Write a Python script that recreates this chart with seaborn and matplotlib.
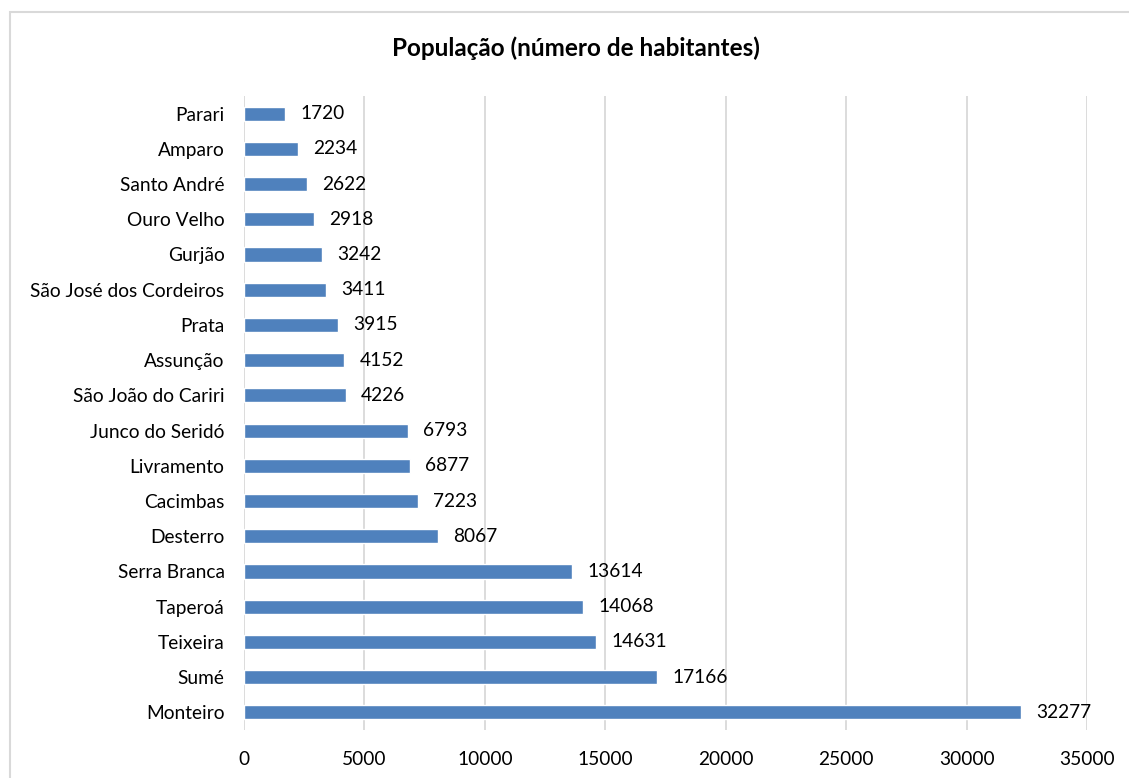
import matplotlib
matplotlib.use("Agg")
import matplotlib.pyplot as plt
import seaborn as sns
import pandas as pd
from matplotlib.patches import Rectangle

municipios = ["Parari", "Amparo", "Santo André", "Ouro Velho", "Gurjão",
              "São José dos Cordeiros", "Prata", "Assunção", "São João do Cariri",
              "Junco do Seridó", "Livramento", "Cacimbas", "Desterro",
              "Serra Branca", "Taperoá", "Teixeira", "Sumé", "Monteiro"]
populacao = [1720, 2234, 2622, 2918, 3242, 3411, 3915, 4152, 4226,
             6793, 6877, 7223, 8067, 13614, 14068, 14631, 17166, 32277]
x_ticks = [0, 5000, 10000, 15000, 20000, 25000, 30000, 35000]
titulo = "População (número de habitantes)"

df = pd.DataFrame({"municipio": municipios, "populacao": populacao})

sns.set_theme(style="white")
plt.rcParams["font.family"] = ["Lato", "DejaVu Sans"]

W, H = 1129, 778
fig = plt.figure(figsize=(W / 100, H / 100), dpi=100)
fig.patches.append(Rectangle((10 / W, -0.01), 1.0, (778 - 12) / H + 0.01,
                             transform=fig.transFigure, fill=False,
                             edgecolor="#d9d9d9", linewidth=1.5))
ax = fig.add_axes([244 / W, 1 - 730 / H, (1087 - 244) / W, (730 - 96) / H])

sns.barplot(data=df, y="municipio", x="populacao", order=municipios,
            color="#4f81bd", saturation=1, width=0.4, ax=ax, orient="h")

fs = 13.8
ax.set_xlim(0, 35000)
ax.set_xticks(x_ticks)
ax.set_xticklabels([str(t) for t in x_ticks], fontsize=fs, color="#000000")
ax.tick_params(axis="y", labelsize=fs, colors="#000000", length=0, pad=14)
ax.tick_params(axis="x", length=0, pad=15)
ax.xaxis.grid(True, color="#d9d9d9", linewidth=1.3)
ax.set_axisbelow(True)
for s in ax.spines.values():
    s.set_visible(False)
ax.set_xlabel("")
ax.set_ylabel("")

for cont in ax.containers:
    ax.bar_label(cont, labels=[str(v) for v in populacao], padding=11,
                 fontsize=fs, color="#000000")

fig.text(576 / W, 1 - 48 / H, titulo, ha="center", va="center",
         fontsize=17.5, fontweight="bold", color="#000000")

fig.savefig("out.png", dpi=100)
